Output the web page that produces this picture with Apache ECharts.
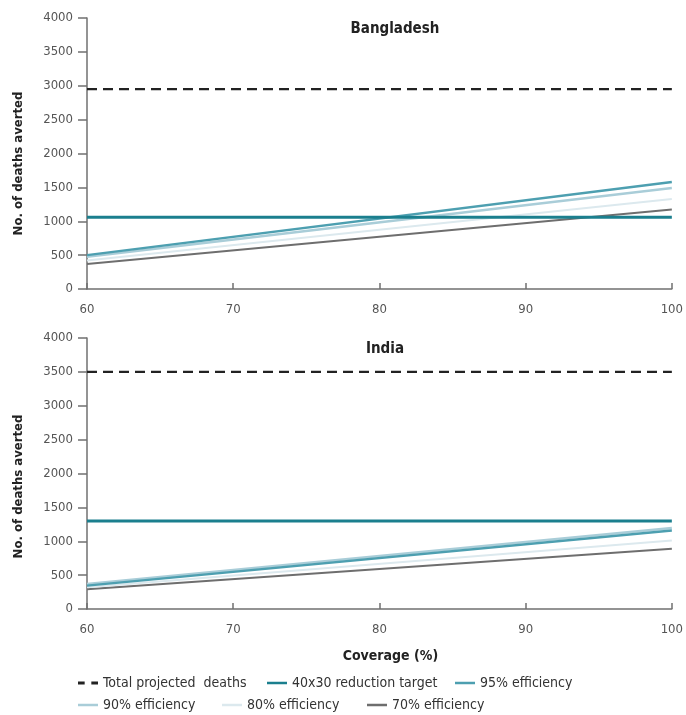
<!DOCTYPE html>
<html>
<head>
<meta charset="utf-8">
<script src="https://cdn.jsdelivr.net/npm/echarts@6/dist/echarts.min.js"></script>
<style>
html,body{margin:0;padding:0;background:#fff;}
#chart{width:686px;height:715px;}
</style>
</head>
<body>
<div id="chart"></div>
<script>
// ---- data ----
var coverage = [60, 100];
var panelTitles = ['Bangladesh', 'India'];
var seriesNames = ['Total projected  deaths', '40x30 reduction target', '95% efficiency', '90% efficiency', '80% efficiency', '70% efficiency'];

var bdTotal = [2950, 2950];
var bdTarget = [1060, 1060];
var bd95 = [500, 1580];
var bd90 = [475, 1490];
var bd80 = [420, 1330];
var bd70 = [370, 1175];

var inTotal = [3500, 3500];
var inTarget = [1300, 1300];
var in95 = [345, 1160];
var in90 = [370, 1195];
var in80 = [320, 1010];
var in70 = [290, 890];

// ---- styles ----
var FONT = '"DejaVu Sans Condensed", "Liberation Sans Narrow", "DejaVu Sans", sans-serif';
var styles = [
  {color: '#222222', width: 2.2, type: [10, 6]},
  {color: '#1b7f8e', width: 3, type: 'solid'},
  {color: '#4d9fb0', width: 2.5, type: 'solid'},
  {color: '#a9cdd8', width: 2.5, type: 'solid'},
  {color: '#dce9ee', width: 2, type: 'solid'},
  {color: '#6e6e6e', width: 2, type: 'solid'}
];
var drawOrder = [0, 5, 4, 3, 2, 1];

function pairs(vals) {
  return coverage.map(function (c, i) { return [c, vals[i]]; });
}

var panels = [
  [bdTotal, bdTarget, bd95, bd90, bd80, bd70],
  [inTotal, inTarget, in95, in90, in80, in70]
];

var series = [];
panels.forEach(function (p, gi) {
  drawOrder.forEach(function (si) {
    var st = styles[si];
    series.push({
      type: 'line',
      name: seriesNames[si],
      xAxisIndex: gi,
      yAxisIndex: gi,
      data: pairs(p[si]),
      symbol: 'none',
      silent: true,
      z: 2,
      itemStyle: {color: st.color},
      lineStyle: {color: st.color, width: st.width, type: st.type}
    });
  });
});

var grids = [
  {left: 87, right: 11, top: 18, height: 271},
  {left: 87, right: 11, top: 338, height: 271}
];

function xAxis(gi) {
  return {
    type: 'value', gridIndex: gi, min: 60, max: 100, interval: 10,
    name: gi === 1 ? 'Coverage (%)' : '',
    nameLocation: 'middle', nameGap: 40,
    nameTextStyle: {fontFamily: FONT, fontWeight: 'bold', fontSize: 14, color: '#222', padding: [0, 0, 0, 22]},
    axisLine: {show: true, lineStyle: {color: '#707070', width: 1.5}},
    axisTick: {show: true, inside: true, length: 6, lineStyle: {color: '#707070', width: 1.5}},
    axisLabel: {fontFamily: FONT, fontSize: 13, color: '#555', margin: 14},
    splitLine: {show: false}
  };
}
function yAxis(gi) {
  return {
    type: 'value', gridIndex: gi, min: 0, max: 4000, interval: 500,
    name: 'No. of deaths averted',
    nameLocation: 'middle', nameRotate: 90, nameGap: 62,
    nameTextStyle: {fontFamily: FONT, fontWeight: 'bold', fontSize: 13, color: '#222', padding: [0, gi === 0 ? 20 : 26, 0, 0]},
    axisLine: {show: true, lineStyle: {color: '#707070', width: 1.5}},
    axisTick: {show: true, length: 9, lineStyle: {color: '#707070', width: 1.5}},
    axisLabel: {fontFamily: FONT, fontSize: 13, color: '#555', margin: 14, formatter: function (v) { return String(v); }},
    splitLine: {show: false}
  };
}

var legendPos = [[78, 676], [267, 676], [455, 676], [78, 698], [222, 698], [367, 698]];
var legends = seriesNames.map(function (n, i) {
  return {
    left: legendPos[i][0], top: legendPos[i][1], padding: 0,
    itemWidth: 20, itemHeight: 10, itemGap: 4,
    selectedMode: false,
    textStyle: {fontFamily: FONT, fontSize: 14, color: '#333'},
    data: [{
      name: n,
      icon: i === 0 ? 'path://M0,4 L6,4 L6,6.5 L0,6.5 Z M12,4 L18,4 L18,6.5 L12,6.5 Z' : 'path://M0,4 L20,4 L20,6.5 L0,6.5 Z'
    }]
  };
});

var option = {
  backgroundColor: '#ffffff',
  animation: false,
  title: panelTitles.map(function (t, i) {
    return {
      text: t, left: i === 0 ? 390 : 380, top: i === 0 ? 17 : 337, textAlign: 'center',
      textStyle: {fontFamily: FONT, fontWeight: 'bold', fontSize: 15, color: '#222'}
    };
  }),
  grid: grids,
  xAxis: [xAxis(0), xAxis(1)],
  yAxis: [yAxis(0), yAxis(1)],
  legend: legends,
  series: series
};

var chart = echarts.init(document.getElementById('chart'), null, {renderer: 'canvas'});
chart.setOption(option);
</script>
</body>
</html>
